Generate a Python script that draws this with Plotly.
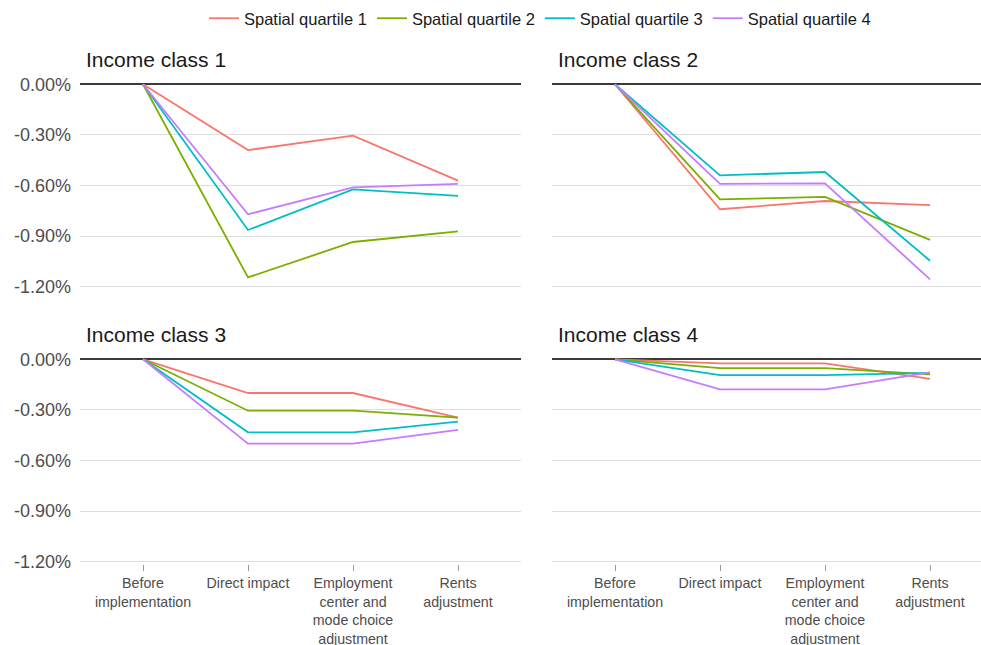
import plotly.graph_objects as go

W, H = 981, 645

categories = ["Before<br>implementation", "Direct impact",
              "Employment<br>center and<br>mode choice<br>adjustment", "Rents<br>adjustment"]
series_names = ["Spatial quartile 1", "Spatial quartile 2", "Spatial quartile 3", "Spatial quartile 4"]
colors = ["#F8766D", "#7CAE00", "#00BFC4", "#C77CFF"]
panel_titles = ["Income class 1", "Income class 2", "Income class 3", "Income class 4"]

# values in percent
income1_q1 = [0, -0.390, -0.305, -0.571]
income1_q2 = [0, -1.145, -0.935, -0.872]
income1_q3 = [0, -0.864, -0.623, -0.662]
income1_q4 = [0, -0.771, -0.611, -0.591]

income2_q1 = [0, -0.741, -0.692, -0.716]
income2_q2 = [0, -0.682, -0.668, -0.923]
income2_q3 = [0, -0.540, -0.520, -1.046]
income2_q4 = [0, -0.591, -0.587, -1.157]

income3_q1 = [0, -0.200, -0.200, -0.346]
income3_q2 = [0, -0.305, -0.305, -0.346]
income3_q3 = [0, -0.433, -0.433, -0.370]
income3_q4 = [0, -0.500, -0.500, -0.419]

income4_q1 = [0, -0.024, -0.024, -0.116]
income4_q2 = [0, -0.053, -0.053, -0.090]
income4_q3 = [0, -0.094, -0.094, -0.081]
income4_q4 = [0, -0.179, -0.179, -0.077]

y_tickvals = [0, -0.3, -0.6, -0.9, -1.2]
y_ticktext = ["0.00%", "-0.30%", "-0.60%", "-0.90%", "-1.20%"]

panels = [
    [income1_q1, income1_q2, income1_q3, income1_q4],
    [income2_q1, income2_q2, income2_q3, income2_q4],
    [income3_q1, income3_q2, income3_q3, income3_q4],
    [income4_q1, income4_q2, income4_q3, income4_q4],
]

FONT = "Liberation Sans, Arial, Helvetica, sans-serif"

fig = go.Figure()
axis_ids = ["", "2", "3", "4"]
for p, series in enumerate(panels):
    for s, vals in enumerate(series):
        fig.add_trace(go.Scatter(
            x=categories, y=vals, mode="lines",
            name=series_names[s],
            line=dict(color=colors[s], width=1.8),
            legendgroup=series_names[s],
            showlegend=(p == 0),
            xaxis="x" + axis_ids[p], yaxis="y" + axis_ids[p],
            hoverinfo="skip",
        ))

# pixel layout
left_dom = [80 / W, 521 / W]
right_dom = [552 / W, 1.0]
px_per_unit = 441 / 4.2
right_max = -0.6 + (W - 552) / px_per_unit
top_dom = [1 - 289.2 / H, 1 - 74.5 / H]
bot_dom = [1 - 564.2 / H, 1 - 349.5 / H]
yrange = [-1.215, 0.058]

def xaxis(dom, rng, anchor, show_labels):
    return dict(
        domain=dom, range=rng, type="category", anchor=anchor,
        automargin=False,
        showgrid=False, zeroline=False, showline=False,
        ticks="outside" if show_labels else "", ticklen=6, tickwidth=1, tickcolor="#999999",
        showticklabels=show_labels,
        ticklabelstandoff=0,
        tickfont=dict(family=FONT, size=14.2, color="#4d4d4d"),
        fixedrange=True,
    )

def yaxis(dom, anchor, show_labels):
    return dict(
        domain=dom, range=yrange, anchor=anchor,
        automargin=False,
        tickvals=y_tickvals, ticktext=y_ticktext,
        showticklabels=show_labels,
        showgrid=True, gridcolor="#dedede", gridwidth=1,
        zeroline=True, zerolinecolor="#3a3a3a", zerolinewidth=1.8,
        showline=False, ticks="",
        ticklabelstandoff=8,
        tickfont=dict(family=FONT, size=18, color="#4d4d4d"),
        fixedrange=True,
    )

fig.update_layout(
    width=W, height=H, autosize=False,
    margin=dict(l=0, r=0, t=0, b=0, autoexpand=False),
    paper_bgcolor="white", plot_bgcolor="white",
    xaxis=xaxis(left_dom, [-0.6, 3.6], "y", False),
    yaxis=yaxis(top_dom, "x", True),
    xaxis2=xaxis(right_dom, [-0.6, right_max], "y2", False),
    yaxis2=yaxis(top_dom, "x2", False),
    xaxis3=xaxis(left_dom, [-0.6, 3.6], "y3", True),
    yaxis3=yaxis(bot_dom, "x3", True),
    xaxis4=xaxis(right_dom, [-0.6, right_max], "y4", True),
    yaxis4=yaxis(bot_dom, "x4", False),
    legend=dict(
        orientation="h", x=540 / W, xanchor="center", y=1 - 1 / H, yanchor="top",
        font=dict(family=FONT, size=16.5, color="#1a1a1a"),
        itemwidth=30, tracegroupgap=0, bgcolor="rgba(0,0,0,0)",
    ),
    showlegend=True,
)

title_pos = [(84, 60), (556, 60), (84, 334), (556, 334)]
for t, (px, py) in zip(panel_titles, title_pos):
    fig.add_annotation(
        text=t, xref="paper", yref="paper", x=px / W, y=1 - py / H,
        xanchor="left", yanchor="middle", showarrow=False,
        font=dict(family=FONT, size=21, color="#1a1a1a"),
    )

post = (
    "document.documentElement.style.margin='0px';"
    "document.documentElement.style.padding='0px';"
    "document.documentElement.style.overflow='hidden';"
    "document.body.style.margin='0px';"
    "document.body.style.padding='0px';"
    "document.body.style.overflow='hidden';"
)

fig.write_html("out.html", config={"displayModeBar": False},
               post_script=post)
